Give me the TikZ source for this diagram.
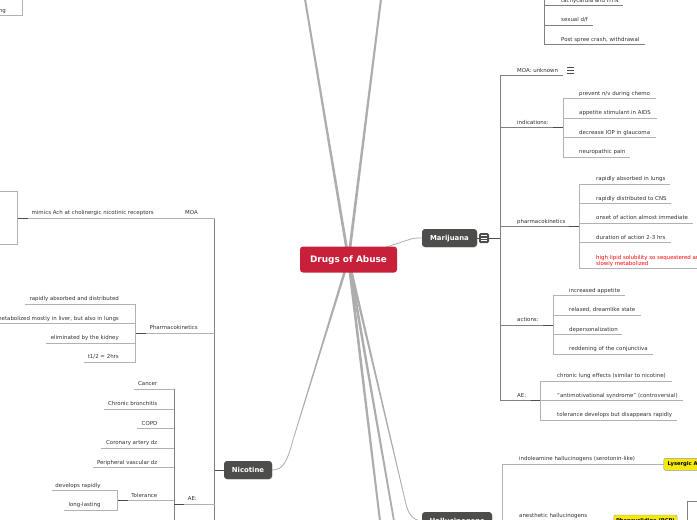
\documentclass[tikz,border=0pt]{standalone}
\usepackage{fontspec}
\setmainfont{DejaVu Sans}
\usetikzlibrary{backgrounds,shadows}
\definecolor{rootred}{HTML}{C8203A}
\definecolor{mainbox}{HTML}{4D4D4B}
\definecolor{txtgray}{HTML}{303030}
\tikzset{
  lbl/.style={font=\fontsize{5.45}{6}\selectfont, text=txtgray, inner sep=0, yshift=3.4pt},
  lblr/.style={lbl, anchor=base west},
  lbll/.style={lbl, anchor=base east},
  rootbox/.style={fill=rootred, rounded corners=3pt, minimum width=97pt, minimum height=26pt,
    text=white, inner sep=0, text height=6.5pt, text depth=0pt, font=\fontsize{8.9}{10}\selectfont\bfseries},
  mainnode/.style={fill=mainbox, rounded corners=3pt, minimum height=18pt, text=white, inner sep=0,
    text height=5pt, text depth=0pt, font=\fontsize{6.9}{8}\selectfont\bfseries,
    drop shadow={opacity=0.25,shadow xshift=0.5pt,shadow yshift=-0.6pt}},
  yelbox/.style={fill=yellow!95!black, draw=black!40, rounded corners=2pt, inner sep=0,
    minimum height=12pt, anchor=west, font=\fontsize{5.2}{6}\selectfont\bfseries, text=black},
  trunk/.style={fill=black!32},
  twig/.style={draw=black!32, line width=0.8pt},
  link/.style={draw=black!30, line width=0.8pt},
  spine/.style={draw=black!50, line width=0.8pt},
  stub/.style={draw=black!70, line width=0.9pt}
}
\begin{document}
\begin{tikzpicture}[x=1pt,y=-1pt]
  \useasboundingbox (0,0) rectangle (697,520);
  % main nodes
  \node[rootbox] (drugs) at (348.5,259.5) {Drugs of Abuse};
  \node[mainnode, minimum width=55pt] (marijuana) at (449.5,238) {Marijuana};
  \node[mainnode, minimum width=48pt] (nicotine) at (248,470) {Nicotine};
  \node[mainnode, minimum width=70pt] (halluc) at (457,521) {Hallucinogens};
  \coordinate (upleft) at (305,-1);
  \coordinate (upright) at (381,-1);
  \coordinate (downa) at (380,521);
  \coordinate (downb) at (394,521);
  \coordinate (nicbend) at (293,440);
  \coordinate (halbend) at (405,500);
  \begin{scope}[on background layer]
    \foreach \tip/\wd in {upleft/1, upright/1, downa/1, downb/0.9, nicbend/0.4, halbend/0.4}
      \fill[trunk] ([xshift=-1.4pt]drugs.center) -- ([xshift=1.4pt]drugs.center)
        -- ([xshift=\wd pt]\tip) -- ([xshift=-\wd pt]\tip) -- cycle;
    \draw[twig] (nicbend) .. controls (287,462) and (283,470) .. (nicotine.east);
    \draw[twig] (halbend) .. controls (408,514) and (412,520) .. (halluc.west);
    \draw[twig] (drugs.center) -- (411,239) .. controls (414,238) and (418,238) .. (marijuana.west);
  \end{scope}

  % marijuana
  \node[fill=mainbox, rounded corners=1.5pt, minimum size=10pt, inner sep=0] (mjmenu) at (484,238) {};
  \foreach \dy in {-2.5,0,2.5}
    \draw[white, line width=0.5pt] ([xshift=-3pt,yshift=\dy pt]mjmenu.center) -- ([xshift=3pt,yshift=\dy pt]mjmenu.center);
  \coordinate (mjhub) at (500.5,238);
  \draw[stub] (marijuana.east) to (mjmenu.west);
  \draw[stub] (mjmenu.east) to (mjhub);
  \foreach \id/\y/\xj/\lab in {moa/75.5/563/{MOA: unknown}, indic/127.5/563/{indications:},
      pharm/226.7/579/{pharmacokinetics}, actions/325/553/{actions:}, mjae/400.7/540.5/{AE:}} {
    \coordinate (\id) at (\xj,\y);
    \node[lblr] (\id t) at (517,\y) {\lab};
    \draw[spine] (mjhub) |- (\id);
  }
  \foreach \id in {indic,pharm,actions,mjae}
    \draw[stub] (\id) to ([xshift=-10pt]\id);
  \foreach \id/\y/\xe/\lab in {prevent/98.5/656/{prevent n/v during chemo},
      appetite/118/657/{appetite stimulant in AIDS}, iop/137.5/656/{decrease IOP in glaucoma},
      neuro/157/630/{neuropathic pain}} {
    \coordinate (\id) at (\xe,\y);
    \node[lblr] (\id t) at (579,\y) {\lab};
    \draw[link] (indic) |- (\id);
  }
  \foreach \id/\y/\xe/\lab in {absorbed/184.3/670/{rapidly absorbed in lungs},
      distrib/203.7/671/{rapidly distributed to CNS}, onset/223.3/692.7/{onset of action almost immediate},
      duration/242.7/671/{duration of action 2-3 hrs}} {
    \coordinate (\id) at (\xe,\y);
    \node[lblr] (\id t) at (596,\y) {\lab};
    \draw[link] (pharm) |- (\id);
  }
  \coordinate (lipid) at (697,268.7);
  \node[lblr, text=red, align=left] (lipid t) at (596,268.7) {high lipid solubility so sequestered and\\slowly metabolized};
  \draw[link] (pharm) |- (lipid);
  \foreach \id/\y/\xe/\lab in {incapp/295.7/624.7/{increased appetite},
      relaxed/315.3/640.7/{relaxed, dreamlike state}, deperson/334.7/622/{depersonalization},
      redden/354.3/652.7/{reddening of the conjunctiva}} {
    \coordinate (\id) at (\xe,\y);
    \node[lblr] (\id t) at (569,\y) {\lab};
    \draw[link] (actions) |- (\id);
  }
  \foreach \id/\y/\xe/\lab in {lung/381.3/671.7/{chronic lung effects (similar to nicotine)},
      antimot/400.7/682.7/{"antimotivational syndrome" (controversial)},
      toler/420/676.7/{tolerance develops but disappears rapidly}} {
    \coordinate (\id) at (\xe,\y);
    \node[lblr] (\id t) at (557,\y) {\lab};
    \draw[link] (mjae) |- (\id);
  }
  \draw[black!70, line width=0.5pt]
    (567,67) -- (574,67) (567,70) -- (574,70) (567,73) -- (574,73);

  % branch cut off at the top
  \coordinate (tophub) at (544.3,-1);
  \foreach \id/\y/\xe/\lab in {tachy/5.7/622.7/{tachycardia and HTN}, sexual/25.3/592.7/{sexual d/f},
      spree/44.7/644.7/{Post spree crash, withdrawal}} {
    \coordinate (\id) at (\xe,\y);
    \node[lblr] (\id t) at (561,\y) {\lab};
    \draw[spine] (tophub) |- (\id);
  }

  % hallucinogens
  \coordinate (halhub) at (502.5,521);
  \node[lblr] (indole t) at (519,464.3) {indoleamine hallucinogens (serotonin-like)};
  \node[yelbox, minimum width=70pt] (lsd) at (663.5,464.3) {\hspace{4pt}Lysergic Acid Diethylamide};
  \draw[stub] (halluc.east) to (halhub);
  \draw[link] (halhub) |- (lsd.west);
  \node[lblr] (anes t) at (519,520.5) {anesthetic hallucinogens};
  \node[yelbox, minimum width=63.5pt] (pcp) at (613.5,521) {Phencyclidine (PCP)};
  \draw[link] (halhub) -- (pcp.west);
  \coordinate (pcpa) at (697,501.3);
  \coordinate (pcpb) at (687.3,521);
  \draw[link, draw=black!50] (pcpa) -| (pcpb);
  \draw[link] (pcp.east) -- (pcpb);

  % nicotine
  \coordinate (nichub) at (214.5,470);
  \draw[stub] (nicotine.west) to (nichub);
  \coordinate (nicbot) at (214.5,521);
  \coordinate (nicmoa) at (214.5,218);
  \draw[spine] (nicmoa) -- (nicbot);
  \node[lbll] (moa2 t) at (198,218) {MOA};
  \node[lbll] (mimics t) at (154,218) {mimics Ach at cholinergic nicotinic receptors};
  \coordinate (recep) at (17.5,218);
  \draw[link] (nicmoa) to (recep);
  \draw[stub] (recep) to ([xshift=10pt]recep);
  \coordinate (recepa) at (-1,191.5);
  \coordinate (recepb) at (-1,244);
  \draw[link] (recep) |- (recepa);
  \draw[link] (recep) |- (recepb);
  \coordinate (pkin) at (135.7,333.3);
  \node[lbll] (pkin t) at (198,333.3) {Pharmacokinetics};
  \draw[link] (nichub |- pkin) to (pkin);
  \draw[stub] (pkin) to ([xshift=10pt]pkin);
  \foreach \id/\y/\xe/\lab in {nabsorb/304/25/{rapidly absorbed and distributed},
      metab/323.5/-1/{metabolized mostly in liver, but also in lungs},
      elim/343.3/46/{eliminated by the kidney}, halflife/362.3/84/{t1/2 = 2hrs}} {
    \coordinate (\id) at (\xe,\y);
    \node[lbll] (\id t) at (119,\y) {\lab};
    \draw[link] (pkin) |- (\id);
  }
  \coordinate (nicae) at (174,504.3);
  \node[lbll] (nicae t) at (197,504.3) {AE:};
  \draw[link] (nichub |- nicae) to (nicae);
  \foreach \id/\y/\xe/\lab in {cancer/389.3/134/{Cancer}, bronch/409.3/104/{Chronic bronchitis},
      copd/428.5/137/{COPD}, cad/448.3/101/{Coronary artery dz}, pvd/467.7/93/{Peripheral vascular dz}} {
    \coordinate (\id) at (\xe,\y);
    \node[lbll] (\id t) at (157.5,\y) {\lab};
    \draw[link] (nicae) |- (\id);
  }
  \coordinate (nictol) at (117.5,500.7);
  \node[lbll] (nictol t) at (157.5,500.7) {Tolerance};
  \draw[link] (nicae) |- (nictol);
  \draw[spine] (nicae) -- (174,389.3);
  \draw[spine] (nicae) -- (174,521);
  \draw[stub] (nicae) to ([xshift=10pt]nicae);
  \draw[stub] (nictol) to ([xshift=10pt]nictol);
  \foreach \id/\y/\xe/\lab in {devrap/490.7/52/{develops rapidly}, lastlong/510.3/64/{long-lasting}} {
    \coordinate (\id) at (\xe,\y);
    \node[lbll] (\id t) at (100.7,\y) {\lab};
    \draw[link] (nictol) |- (\id);
  }

  % corner at the top left
  \coordinate (corner) at (22.5,-1);
  \coordinate (cornerb) at (-1,15.7);
  \node[lbll] (corner t) at (6,15.7) {ng};
  \draw[link] (corner) |- (cornerb);
\end{tikzpicture}
\end{document}
